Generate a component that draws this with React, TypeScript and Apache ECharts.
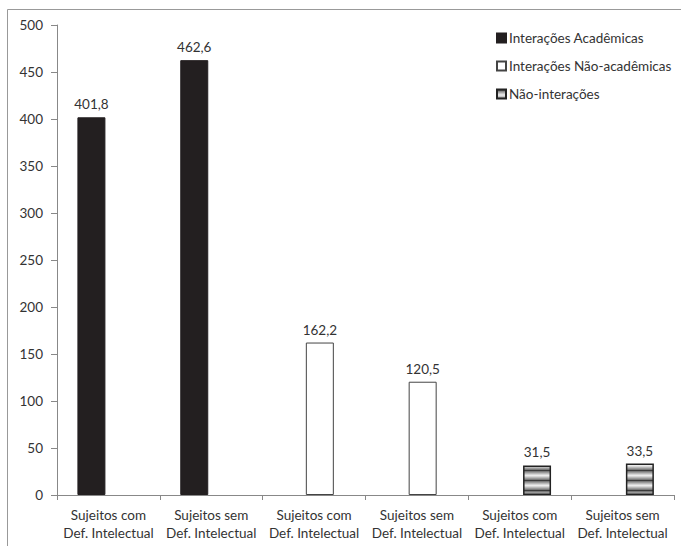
import React, { useEffect, useRef } from "react";
import * as echarts from "echarts";

const categories = [
  "Sujeitos com\nDef. Intelectual",
  "Sujeitos sem\nDef. Intelectual",
  "Sujeitos com\nDef. Intelectual",
  "Sujeitos sem\nDef. Intelectual",
  "Sujeitos com\nDef. Intelectual",
  "Sujeitos sem\nDef. Intelectual",
];
const seriesNames = [
  "Interações Acadêmicas",
  "Interações Não-acadêmicas",
  "Não-interações",
];
const academicas = [401.8, 462.6, null, null, null, null];
const naoAcademicas = [null, null, 162.2, 120.5, null, null];
const naoInteracoes = [null, null, null, null, 31.5, 33.5];
const empty = [null, null, null, null, null, null];
const yTicks = { min: 0, max: 500, interval: 50 };

const FONT = "Lato, 'Open Sans', sans-serif";

function makeStripe(): string {
  const c = document.createElement("canvas");
  c.width = 4;
  c.height = 10;
  const ctx = c.getContext("2d")!;
  const rows = ["#3a3a3a", "#7a7a7a", "#9a9a9a", "#b8b8b8", "#d6d6d6", "#ececec", "#d6d6d6", "#b8b8b8", "#9a9a9a", "#7a7a7a"];
  rows.forEach((col, i) => {
    ctx.fillStyle = col;
    ctx.fillRect(0, i, 4, 1);
  });
  return c.toDataURL();
}

export default function App() {
  const ref = useRef<HTMLDivElement>(null);
  useEffect(() => {
    if (!ref.current) return;
    const chart = echarts.init(ref.current, null, { renderer: "svg" });
    const stripe = { image: makeStripe(), repeat: "repeat" } as any;
    const fmt = (p: any) => (p.value == null ? "" : Number(p.value).toFixed(1).replace(".", ","));
    const label = {
      show: true,
      position: "top",
      distance: 6,
      formatter: fmt,
      fontFamily: FONT,
      fontSize: 13.5,
      color: "#333",
    };
    const hiddenX = () => ({
      type: "category",
      data: categories,
      gridIndex: 0,
      show: false,
    });
    chart.setOption({
      animation: false,
      backgroundColor: "#fff",
      grid: { left: 57, right: 7, top: 25, bottom: 51, containLabel: false },
      graphic: [
        {
          type: "rect",
          shape: { x: 7.5, y: 9.5, width: 700, height: 600 },
          style: { fill: "none", stroke: "#999", lineWidth: 1 },
          silent: true,
        },
      ],
      legend: {
        orient: "vertical",
        left: 491,
        top: 24,
        icon: "rect",
        itemWidth: 9,
        itemHeight: 9,
        itemGap: 10,
        data: seriesNames,
        textStyle: { fontFamily: FONT, fontSize: 13.5, color: "#333", lineHeight: 18, padding: [0, 0, 0, -2] },
      },
      xAxis: [
        {
          type: "category",
          data: categories,
          gridIndex: 0,
          axisLine: { lineStyle: { color: "#888" } },
          axisTick: { show: true, length: 5, lineStyle: { color: "#888" } },
          axisLabel: {
            interval: 0,
            margin: 11,
            fontFamily: FONT,
            fontSize: 13.5,
            color: "#333",
            lineHeight: 18,
          },
          splitLine: { show: false },
        },
        hiddenX(),
        hiddenX(),
      ],
      yAxis: {
        type: "value",
        min: yTicks.min,
        max: yTicks.max,
        interval: yTicks.interval,
        axisLine: { show: true, lineStyle: { color: "#888" } },
        axisTick: { show: true, length: 6, lineStyle: { color: "#888" } },
        splitLine: { show: false },
        axisLabel: { margin: 14, fontFamily: FONT, fontSize: 13.5, color: "#333" },
      },
      series: [
        {
          name: seriesNames[0],
          type: "bar",
          xAxisIndex: 0,
          data: academicas,
          barWidth: 28,
          barGap: "21.4%",
          itemStyle: { color: "#231f20", borderColor: "#231f20", borderWidth: 1 },
          label,
        },
        { name: "_d0", type: "bar", xAxisIndex: 0, data: empty, barWidth: 28, barGap: "21.4%" },
        { name: "_d1", type: "bar", xAxisIndex: 1, data: empty, barWidth: 28, barGap: "-58.9%" },
        {
          name: seriesNames[1],
          type: "bar",
          xAxisIndex: 1,
          data: naoAcademicas,
          barWidth: 28,
          barGap: "-58.9%",
          itemStyle: { color: "#fff", borderColor: "#444", borderWidth: 1 },
          label,
        },
        { name: "_d2", type: "bar", xAxisIndex: 2, data: empty, barWidth: 28, barGap: "23.6%" },
        {
          name: seriesNames[2],
          type: "bar",
          xAxisIndex: 2,
          data: naoInteracoes,
          barWidth: 28,
          barGap: "23.6%",
          itemStyle: { color: stripe, borderColor: "#222", borderWidth: 1.5 },
          label,
        },
      ],
    });
    return () => chart.dispose();
  }, []);
  return (
    <div
      ref={ref}
      style={{ position: "absolute", left: 0, top: 0, width: 681, height: 546 }}
    />
  );
}
